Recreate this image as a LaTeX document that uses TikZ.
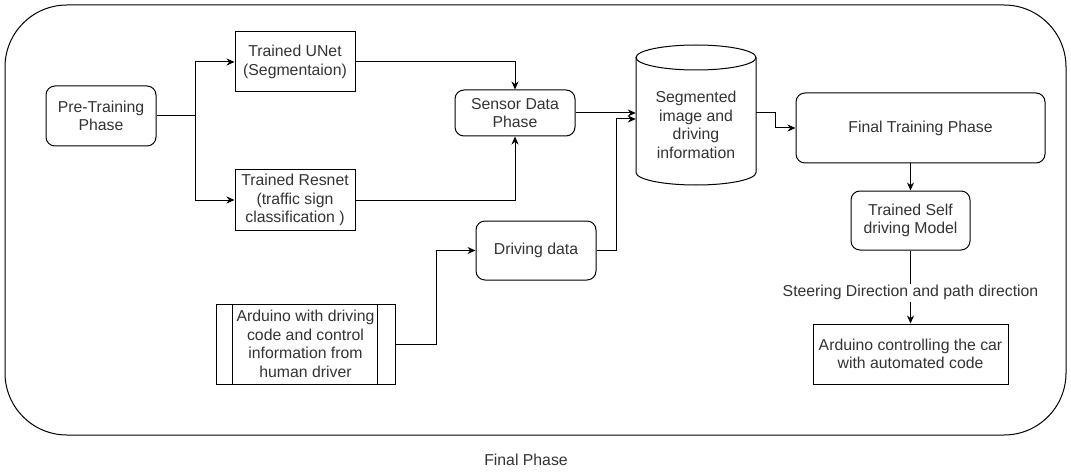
\documentclass[tikz,border=0pt]{standalone}
\usepackage{fontspec}
\setmainfont{Liberation Sans}
\usetikzlibrary{arrows.meta}
\begin{document}
\begin{tikzpicture}[x=1pt,y=-1pt,
  every node/.style={font=\fontsize{15.8}{18.5}\selectfont, align=center, text=black!80, inner sep=0pt},
  rbox/.style={draw, rounded corners=9pt, line width=1pt},
  sbox/.style={draw, line width=1pt},
  arr/.style={-{Stealth[length=8pt,width=7pt]}, line width=1pt},
  ln/.style={line width=1pt}
  ]
\useasboundingbox (0,0) rectangle (1071,476);
% frame
\node[draw, line width=1pt, rounded corners=62pt, minimum width=1061pt, minimum height=430pt] (frame) at (535.5,220) {};
\node (framelabel) at (526,460) {Final Phase};
% nodes
\node[rbox, minimum width=110pt, minimum height=60pt] (pre) at (101,116) {Pre-Training\\Phase};
\node[sbox, minimum width=120pt, minimum height=60pt] (unet) at (295,62) {Trained UNet\\(Segmentaion)};
\node[sbox, minimum width=120pt, minimum height=60pt] (res) at (295,200) {Trained Resnet\\(traffic sign\\classification )};
\node[rbox, minimum width=120pt, minimum height=46pt] (sensor) at (515,113) {Sensor Data\\Phase};
\node[rbox, minimum width=120pt, minimum height=59pt] (drive) at (536,250.5) {Driving data};
\node[sbox, minimum width=179pt, minimum height=80pt] (ard) at (305.5,344) {Arduino with driving\\code and control\\information from\\human driver};
\draw[ln] ([xshift=17pt]ard.north west) -- ([xshift=17pt]ard.south west);
\draw[ln] ([xshift=-18pt]ard.north east) -- ([xshift=-18pt]ard.south east);
% cylinder
\draw[ln] (696,57.5) ellipse [x radius=60pt, y radius=12.5pt];
\draw[ln] (636,57.5) -- (636,172.5) arc[start angle=180, end angle=360, x radius=60pt, y radius=12.5pt] -- (756,57.5);
\node[minimum width=120pt, minimum height=100pt] (cyl) at (696,125) {Segmented\\image and\\driving\\information};
\node[rbox, minimum width=249pt, minimum height=70pt] (final) at (920.5,128) {Final Training Phase};
\node[rbox, minimum width=119pt, minimum height=59pt] (self) at (910.5,220.5) {Trained Self\\driving Model};
\node[sbox, minimum width=195pt, minimum height=60pt] (ardc) at (910.5,354) {Arduino controlling the car\\with automated code};
% connectors
\coordinate (br) at (195,116);
\draw[ln] (pre.east) -- (br);
\draw[arr] (br) |- (unet.west);
\draw[arr] (br) |- (res.west);
\draw[arr] (unet.east) -| (sensor.north);
\draw[arr] (res.east) -| (sensor.south);
\draw[arr] (sensor.east) -- (sensor.east -| cyl.west);
\draw[arr] (drive.east) -- ++(20,0) |- ([yshift=-6pt]cyl.west |- sensor.east);
\draw[arr] (ard.east) -- ++(41,0) |- (drive.west);
\draw[arr] ([yshift=12pt]cyl.east) -- ++(19,0) |- (final.west);
\draw[arr] (final.south -| self.north) -- (self.north);
\draw[arr] (self.south) -- (ardc.north) node[pos=0.58, fill=white, inner sep=1.5pt] {Steering Direction and path direction};
\end{tikzpicture}
\end{document}
